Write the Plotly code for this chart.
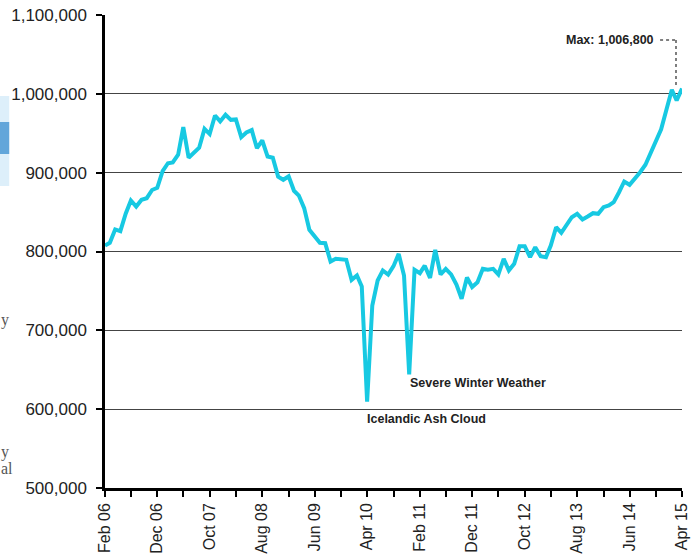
import pandas as pd
import plotly.graph_objects as go

# Monthly passengers, Feb 2006 .. Apr 2015
months = pd.date_range("2006-02-01", "2015-04-01", freq="MS")
passengers = [
    807600, 811000, 828000, 825800, 848000, 864700, 857000, 865600, 867600, 878000,
    880800, 901900, 912000, 913000, 922700, 957700, 918900, 925000, 931600, 955600,
    949000, 972500, 965000, 973400, 967000, 967500, 945000, 951000, 954000, 931000,
    940800, 920500, 918900, 895000, 891000, 895500, 877000, 871000, 855000, 827500,
    820000, 811000, 810500, 787300, 790700, 790700, 789500, 764000, 769600, 755600,
    609400, 731500, 763200, 775900, 770800, 781400, 797000, 769600, 644000, 776800,
    772500, 782000, 766600, 802000, 770800, 778000, 771000, 758000, 740000, 767000,
    755000, 761000, 778000, 776800, 778000, 771000, 790700, 776000, 784400, 806700,
    806700, 792800, 805500, 794000, 792800, 807600, 830800, 823700, 833900, 843500,
    847800, 840600, 844400, 848600, 847800, 856200, 858400, 862500, 875200, 888800,
    884600, 892200, 900600, 910000, 924000, 940800, 955000, 980000, 1005000, 991600,
    1006800,
]

tick_dates = pd.date_range("2006-02-01", "2015-04-01", freq="10MS")
tick_labels = [d.strftime("%b %y") for d in tick_dates]
y_ticks = [500000, 600000, 700000, 800000, 900000, 1000000, 1100000]

FONT = "Arial, Liberation Sans, sans-serif"

fig = go.Figure()
fig.add_trace(go.Scatter(
    x=months, y=passengers, mode="lines",
    line=dict(color="#17C9E2", width=4),
    hoverinfo="x+y", showlegend=False,
))

fig.update_layout(
    width=696, height=554,
    margin=dict(l=105, r=14, t=15, b=66, autoexpand=False),
    paper_bgcolor="white", plot_bgcolor="white",
    font=dict(family=FONT, color="#222222"),
    xaxis=dict(
        range=[months[0], months[-1]],
        tickvals=list(tick_dates), ticktext=tick_labels,
        tickangle=-90, tickfont=dict(size=16, color="#222222"),
        ticks="outside", ticklen=6, tickwidth=1.5, tickcolor="black",
        showline=True, linecolor="black", linewidth=2.5,
        showgrid=False, zeroline=False, automargin=False,
        minor=dict(dtick="M5", tick0="2006-02-01", ticks="outside",
                   ticklen=6, tickwidth=1.5, tickcolor="black", showgrid=False),
    ),
    yaxis=dict(
        range=[500000, 1100000],
        tickvals=y_ticks, tickformat=",",
        tickfont=dict(size=17, color="#222222"),
        ticks="outside", ticklen=6, tickwidth=1.5, tickcolor="black",
        ticklabelstandoff=6,
        showline=True, linecolor="black", linewidth=2.5,
        showgrid=True, gridcolor="#444444", gridwidth=1,
        zeroline=False, automargin=False,
    ),
)

ann_font = dict(family=FONT, size=12.5, color="#222222")
fig.add_annotation(xref="paper", yref="paper", x=0.955, y=0.947,
                   xanchor="right", yanchor="middle", showarrow=False,
                   text="<b>Max: 1,006,800</b>", font=ann_font)
fig.add_annotation(xref="paper", yref="paper", x=0.4506, y=0.1459,
                   xanchor="left", yanchor="middle", showarrow=False,
                   text="<b>Icelandic Ash Cloud</b>", font=ann_font)
fig.add_annotation(xref="paper", yref="paper", x=0.525, y=0.222,
                   xanchor="left", yanchor="middle", showarrow=False,
                   text="<b>Severe Winter Weather</b>", font=ann_font)

# dotted leader line for max
fig.add_shape(type="line", xref="paper", yref="paper",
              x0=0.962, x1=0.9896, y0=0.947, y1=0.947,
              line=dict(color="#555555", width=1.5, dash="dot"))
fig.add_shape(type="line", xref="paper", yref="paper",
              x0=0.9896, x1=0.9896, y0=0.947, y1=0.852,
              line=dict(color="#555555", width=1.5, dash="dot"))

# cropped page fragments on the left edge
fig.add_shape(type="rect", xref="paper", yref="paper",
              x0=-0.182, x1=-0.166, y0=(488 - 186) / 473, y1=(488 - 96) / 473,
              fillcolor="#DDEFFA", line=dict(width=0), layer="below")
fig.add_shape(type="rect", xref="paper", yref="paper",
              x0=-0.182, x1=-0.166, y0=(488 - 154) / 473, y1=(488 - 122) / 473,
              fillcolor="#62A6DA", line=dict(width=0), layer="below")
side_font = dict(family="Liberation Serif, DejaVu Serif, serif", size=16, color="#555555")
for txt, ypix in [("y", 320), ("y", 452), ("al", 468)]:
    fig.add_annotation(xref="paper", yref="paper", x=-0.184,
                       y=(488 - ypix) / 473, xanchor="left", yanchor="middle",
                       showarrow=False, text=txt, font=side_font)

fig.write_html("out.html", config={"displayModeBar": False},
               post_script="document.body.style.margin='0';")
